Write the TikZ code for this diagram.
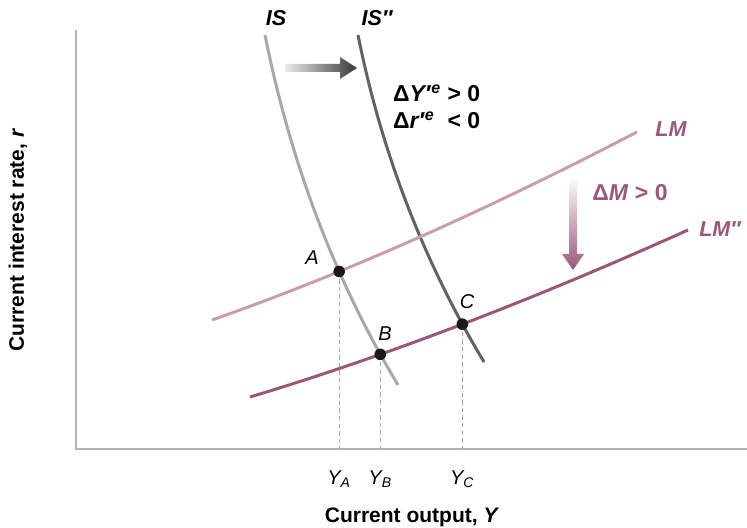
\documentclass[tikz,border=0pt]{standalone}
\usepackage{fontspec}
\setmainfont{Liberation Sans}
\usetikzlibrary{intersections, calc}

\definecolor{isgray}{HTML}{A8A8A8}
\definecolor{isdark}{HTML}{626262}
\definecolor{lmpink}{HTML}{C99DB1}
\definecolor{lmpurple}{HTML}{9B5779}
\definecolor{axisgray}{HTML}{B4B4B4}

\begin{document}
\begin{tikzpicture}[x=0.5pt, y=-0.5pt, font=\fontsize{10.5}{13.5}\selectfont,
  curve/.style={line width=1.5pt},
  dot/.style={circle, fill=black!90, inner sep=0pt, minimum size=5.8pt},
  guide/.style={draw=black!35, line width=0.5pt, dash pattern=on 2.2pt off 1.6pt},
  lab/.style={font=\fontsize{10.8}{13.5}\selectfont\bfseries\itshape},
  delta/.style={font=\fontsize{11.5}{13.5}\selectfont\bfseries}]
  \useasboundingbox (0,0) rectangle (747,528);

  % 坐标轴
  \coordinate (O) at (76,449);
  \coordinate (T) at (76,30);
  \coordinate (R) at (747,449);
  \draw[axisgray, line width=1.2pt] (T) -- (O) -- (R);

  % IS 与 IS'' 曲线
  \draw[curve, isgray, name path=is]
    (265,35) .. controls (290.7,163.3) and (335,280) .. (398,385);
  \draw[curve, isdark, name path=isb]
    (358,35) .. controls (381.4,152) and (423.4,261) .. (484,362);

  % LM 与 LM'' 曲线
  \draw[curve, lmpink, name path=lm]
    (212,320) .. controls (341.3,274.7) and (483,212) .. (637,132);
  \draw[curve, lmpurple, name path=lmb]
    (250,397) .. controls (384,356.8) and (530,301.1) .. (688,230);

  % 交点
  \path[name intersections={of=is and lm, by=A}];
  \path[name intersections={of=is and lmb, by=B}];
  \path[name intersections={of=isb and lmb, by=C}];

  % 垂线
  \draw[guide] (A) -- (A |- O);
  \draw[guide] (B) -- (B |- O);
  \draw[guide] (C) -- (C |- O);

  \node[dot] (pA) at (A) {};
  \node[dot] (pB) at (B) {};
  \node[dot] (pC) at (C) {};

  % 移动箭头
  \shade[left color=black!8, right color=black!78]
    (285,64) -- (340,64) -- (340,57) -- (357,68) -- (340,79) -- (340,72) -- (285,72) -- cycle;
  \shade[top color=lmpurple!5, bottom color=lmpurple]
    (569,180) -- (577,180) -- (577,254) -- (584,254) -- (573,270) -- (562,254) -- (569,254) -- cycle;

  % 标签
  \node[lab] (lIS)  at (276,18) {IS};
  \node[lab] (lISb) at (377,18) {IS″};
  \node[lab, text=lmpurple] (lLM)  at (671,129) {LM};
  \node[lab, text=lmpurple] (lLMb) at (720,229) {LM″};
  \node[delta, anchor=west] (dY) at (386,110)
    {\begin{tabular}{@{}l@{\ }l@{}}
      Δ\textit{Y′}\textsuperscript{\textit{e}} & > 0\\
      Δ\textit{r′}\textsuperscript{\textit{e}} & < 0
    \end{tabular}};
  \node[delta, text=lmpurple] (dM) at (630,193) {Δ\textit{M} > 0};

  \node[font=\itshape] (lA) at (312,258) {A};
  \node[font=\itshape] (lB) at (385,334) {B};
  \node[font=\itshape] (lC) at (467,302) {C};

  \node[font=\itshape] (yA) at ($(A |- O) + (0,30)$) {Y\textsubscript{A}};
  \node[font=\itshape] (yB) at ($(B |- O) + (0,30)$) {Y\textsubscript{B}};
  \node[font=\itshape] (yC) at ($(C |- O) + (0,30)$) {Y\textsubscript{C}};

  \node[font=\fontsize{10.5}{13.5}\selectfont\bfseries] (xl) at (412,517)
    {Current output, \textit{Y}};
  \node[font=\fontsize{10.5}{13.5}\selectfont\bfseries, rotate=90] (yl) at (18,240)
    {Current interest rate, \textit{r}};
\end{tikzpicture}
\end{document}
